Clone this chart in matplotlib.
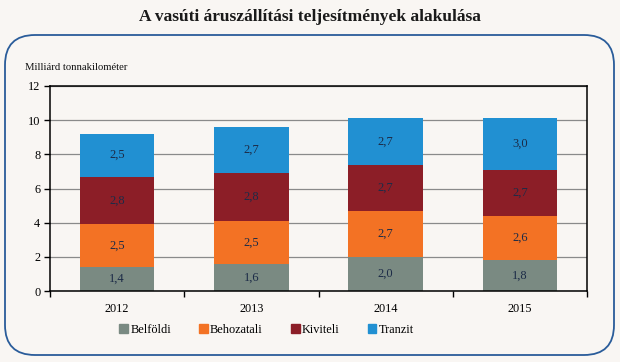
import matplotlib
matplotlib.use("Agg")
import matplotlib.pyplot as plt
import numpy as np
from matplotlib.patches import FancyBboxPatch

years = ["2012", "2013", "2014", "2015"]
series_names = ["Belföldi", "Behozatali", "Kiviteli", "Tranzit"]
belfoldi = [1.4, 1.6, 2.0, 1.8]
behozatali = [2.5, 2.5, 2.7, 2.6]
kiviteli = [2.8, 2.8, 2.7, 2.7]
tranzit = [2.5, 2.7, 2.7, 3.0]
colors = ["#7A8A82", "#F37224", "#8C1E27", "#2190D2"]
yticks = [0, 2, 4, 6, 8, 10, 12]

W, H = 620, 362
bg = "#F9F6F3"
plt.rcParams['font.family'] = ['Liberation Serif', 'DejaVu Serif']

fig = plt.figure(figsize=(W / 100, H / 100), dpi=100, facecolor=bg)

# background axes in pixel coordinates
bgax = fig.add_axes([0, 0, 1, 1], zorder=0)
bgax.set_xlim(0, W)
bgax.set_ylim(H, 0)
bgax.axis("off")
box = FancyBboxPatch((5 + 30, 35 + 30), 609 - 60, 320 - 60,
                     boxstyle="round,pad=30", facecolor="none",
                     edgecolor="#2A5C9A", linewidth=1.3)
bgax.add_patch(box)
bgax.text(W / 2, 17, "A vasúti áruszállítási teljesítmények alakulása",
          ha="center", va="center", fontsize=12.5, fontweight="bold", color="#1a1a1a")
bgax.text(25, 68, "Milliárd tonnakilométer", ha="left", va="center",
          fontsize=7.7, color="#111111")

# main plot axes
left, right, top, bottom = 50, 587, 86, 291
ax = fig.add_axes([left / W, 1 - bottom / H, (right - left) / W, (bottom - top) / H], zorder=1)
ax.set_facecolor("none")

data = [belfoldi, behozatali, kiviteli, tranzit]
x = np.arange(len(years))
base = np.zeros(len(years))
for vals, c, name in zip(data, colors, series_names):
    vals = np.array(vals)
    ax.bar(x, vals, bottom=base, width=0.555, color=c, label=name, zorder=2)
    for xi, b, v in zip(x, base, vals):
        ax.text(xi, b + v / 2, f"{v:.1f}".replace(".", ","), ha="center", va="center",
                fontsize=9, color="#1C2B47", zorder=3)
    base += vals

ax.set_xlim(-0.5, len(years) - 0.5)
ax.set_ylim(0, 12)
ax.set_yticks(yticks)
ax.set_yticklabels([str(t) for t in yticks], fontsize=8.8)
ax.yaxis.grid(True, color="#8A8A8A", linewidth=0.9, zorder=0)
ax.set_axisbelow(True)
ax.set_xticks(np.arange(-0.5, len(years), 1.0))
ax.set_xticklabels([])
ax.set_xticks(x, minor=True)
ax.set_xticklabels(years, minor=True, fontsize=8.8)
ax.tick_params(axis="x", which="minor", length=0, pad=9)
ax.tick_params(axis="x", which="major", length=4, width=1, direction="out")
ax.tick_params(axis="y", length=4, width=1, direction="out", pad=3)
for s in ax.spines.values():
    s.set_color("black")
    s.set_linewidth(1.1)

handles = [plt.Rectangle((0, 0), 1, 1, color=c) for c in colors]
leg = fig.legend(handles, series_names, loc="center", bbox_to_anchor=(0.43, 1 - 330 / H),
                 ncol=4, frameon=False, fontsize=8.8, handlelength=0.7, handleheight=0.7,
                 handletextpad=0.2, columnspacing=2.3)

fig.savefig("out.png", dpi=100, facecolor=bg)
